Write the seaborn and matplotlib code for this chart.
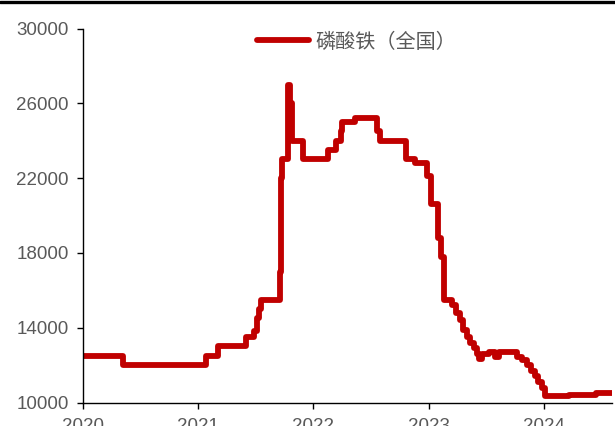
import numpy as np
import pandas as pd
import matplotlib
matplotlib.use("Agg")
import matplotlib.pyplot as plt
import seaborn as sns
from matplotlib.lines import Line2D

# 磷酸铁（全国）价格，阶梯变化点（年份, 元/吨）
years = [2020.00, 2020.355, 2021.07, 2021.175, 2021.42, 2021.49, 2021.51, 2021.53,
         2021.55, 2021.71, 2021.72, 2021.73, 2021.785, 2021.80, 2021.82, 2021.91,
         2022.13, 2022.20, 2022.24, 2022.25, 2022.36, 2022.555, 2022.58, 2022.80,
         2022.88, 2022.99, 2023.02, 2023.08, 2023.11, 2023.135, 2023.20, 2023.24,
         2023.27, 2023.30, 2023.33, 2023.36, 2023.39, 2023.42, 2023.44, 2023.46,
         2023.52, 2023.58, 2023.61, 2023.77, 2023.81, 2023.85, 2023.89, 2023.92,
         2023.95, 2023.98, 2024.01, 2024.22, 2024.45, 2024.59]
prices = [12500, 12000, 12500, 13000, 13500, 13800, 14500, 15000,
          15500, 17000, 22000, 23000, 27000, 26000, 24000, 23000,
          23500, 24000, 24500, 25000, 25200, 24500, 24000, 23000,
          22800, 22100, 20600, 18800, 17800, 15500, 15200, 14800,
          14400, 13900, 13500, 13200, 12900, 12600, 12300, 12600,
          12700, 12450, 12700, 12450, 12250, 12000, 11700, 11400,
          11100, 10800, 10350, 10400, 10500, 10500]
series_name = "磷酸铁（全国）"
yticks = [10000, 14000, 18000, 22000, 26000, 30000]
xticks = [2020, 2021, 2022, 2023, 2024]

df = pd.DataFrame({"year": years, "price": prices, "name": series_name})

sns.set_style("ticks")
plt.rcParams["font.family"] = ["Liberation Sans", "Noto Sans CJK SC", "DejaVu Sans"]

fig = plt.figure(figsize=(6.15, 4.26), dpi=100)
ax = fig.add_axes([82.5 / 615, 23.5 / 426, 529.5 / 615, 374 / 426])

sns.lineplot(data=df, x="year", y="price", hue="name", palette=["#C00000"],
             drawstyle="steps-post", linewidth=4.2, sort=False,
             solid_joinstyle="round", solid_capstyle="round", ax=ax)

ax.set_xlim(2020, 2024.59)
ax.set_ylim(10000, 30000)
ax.set_xticks(xticks)
ax.set_yticks(yticks)
ax.set_xticklabels([str(t) for t in xticks])
ax.set_yticklabels([str(t) for t in yticks])
ax.set_xlabel("")
ax.set_ylabel("")
sns.despine(ax=ax)
for s in ["left", "bottom"]:
    ax.spines[s].set_color("black")
    ax.spines[s].set_linewidth(1.0)
ax.tick_params(axis="both", colors="black", length=4, width=1.0,
               labelsize=13.5, labelcolor="#595959")
ax.tick_params(axis="y", pad=6)
ax.tick_params(axis="x", pad=7)

leg = ax.legend(loc="center", bbox_to_anchor=(0.517, 0.964), frameon=False,
                handlelength=2.6, handletextpad=0.3, borderaxespad=0,
                prop={"family": ["Noto Sans CJK SC", "DejaVu Sans"], "size": 14.5})
for t in leg.get_texts():
    t.set_color("#595959")

# 顶部黑线
fig.add_artist(Line2D([0, 1], [1 - 2 / 426, 1 - 2 / 426], color="black",
                      linewidth=2.4, transform=fig.transFigure))

fig.savefig("out.png", dpi=100)
